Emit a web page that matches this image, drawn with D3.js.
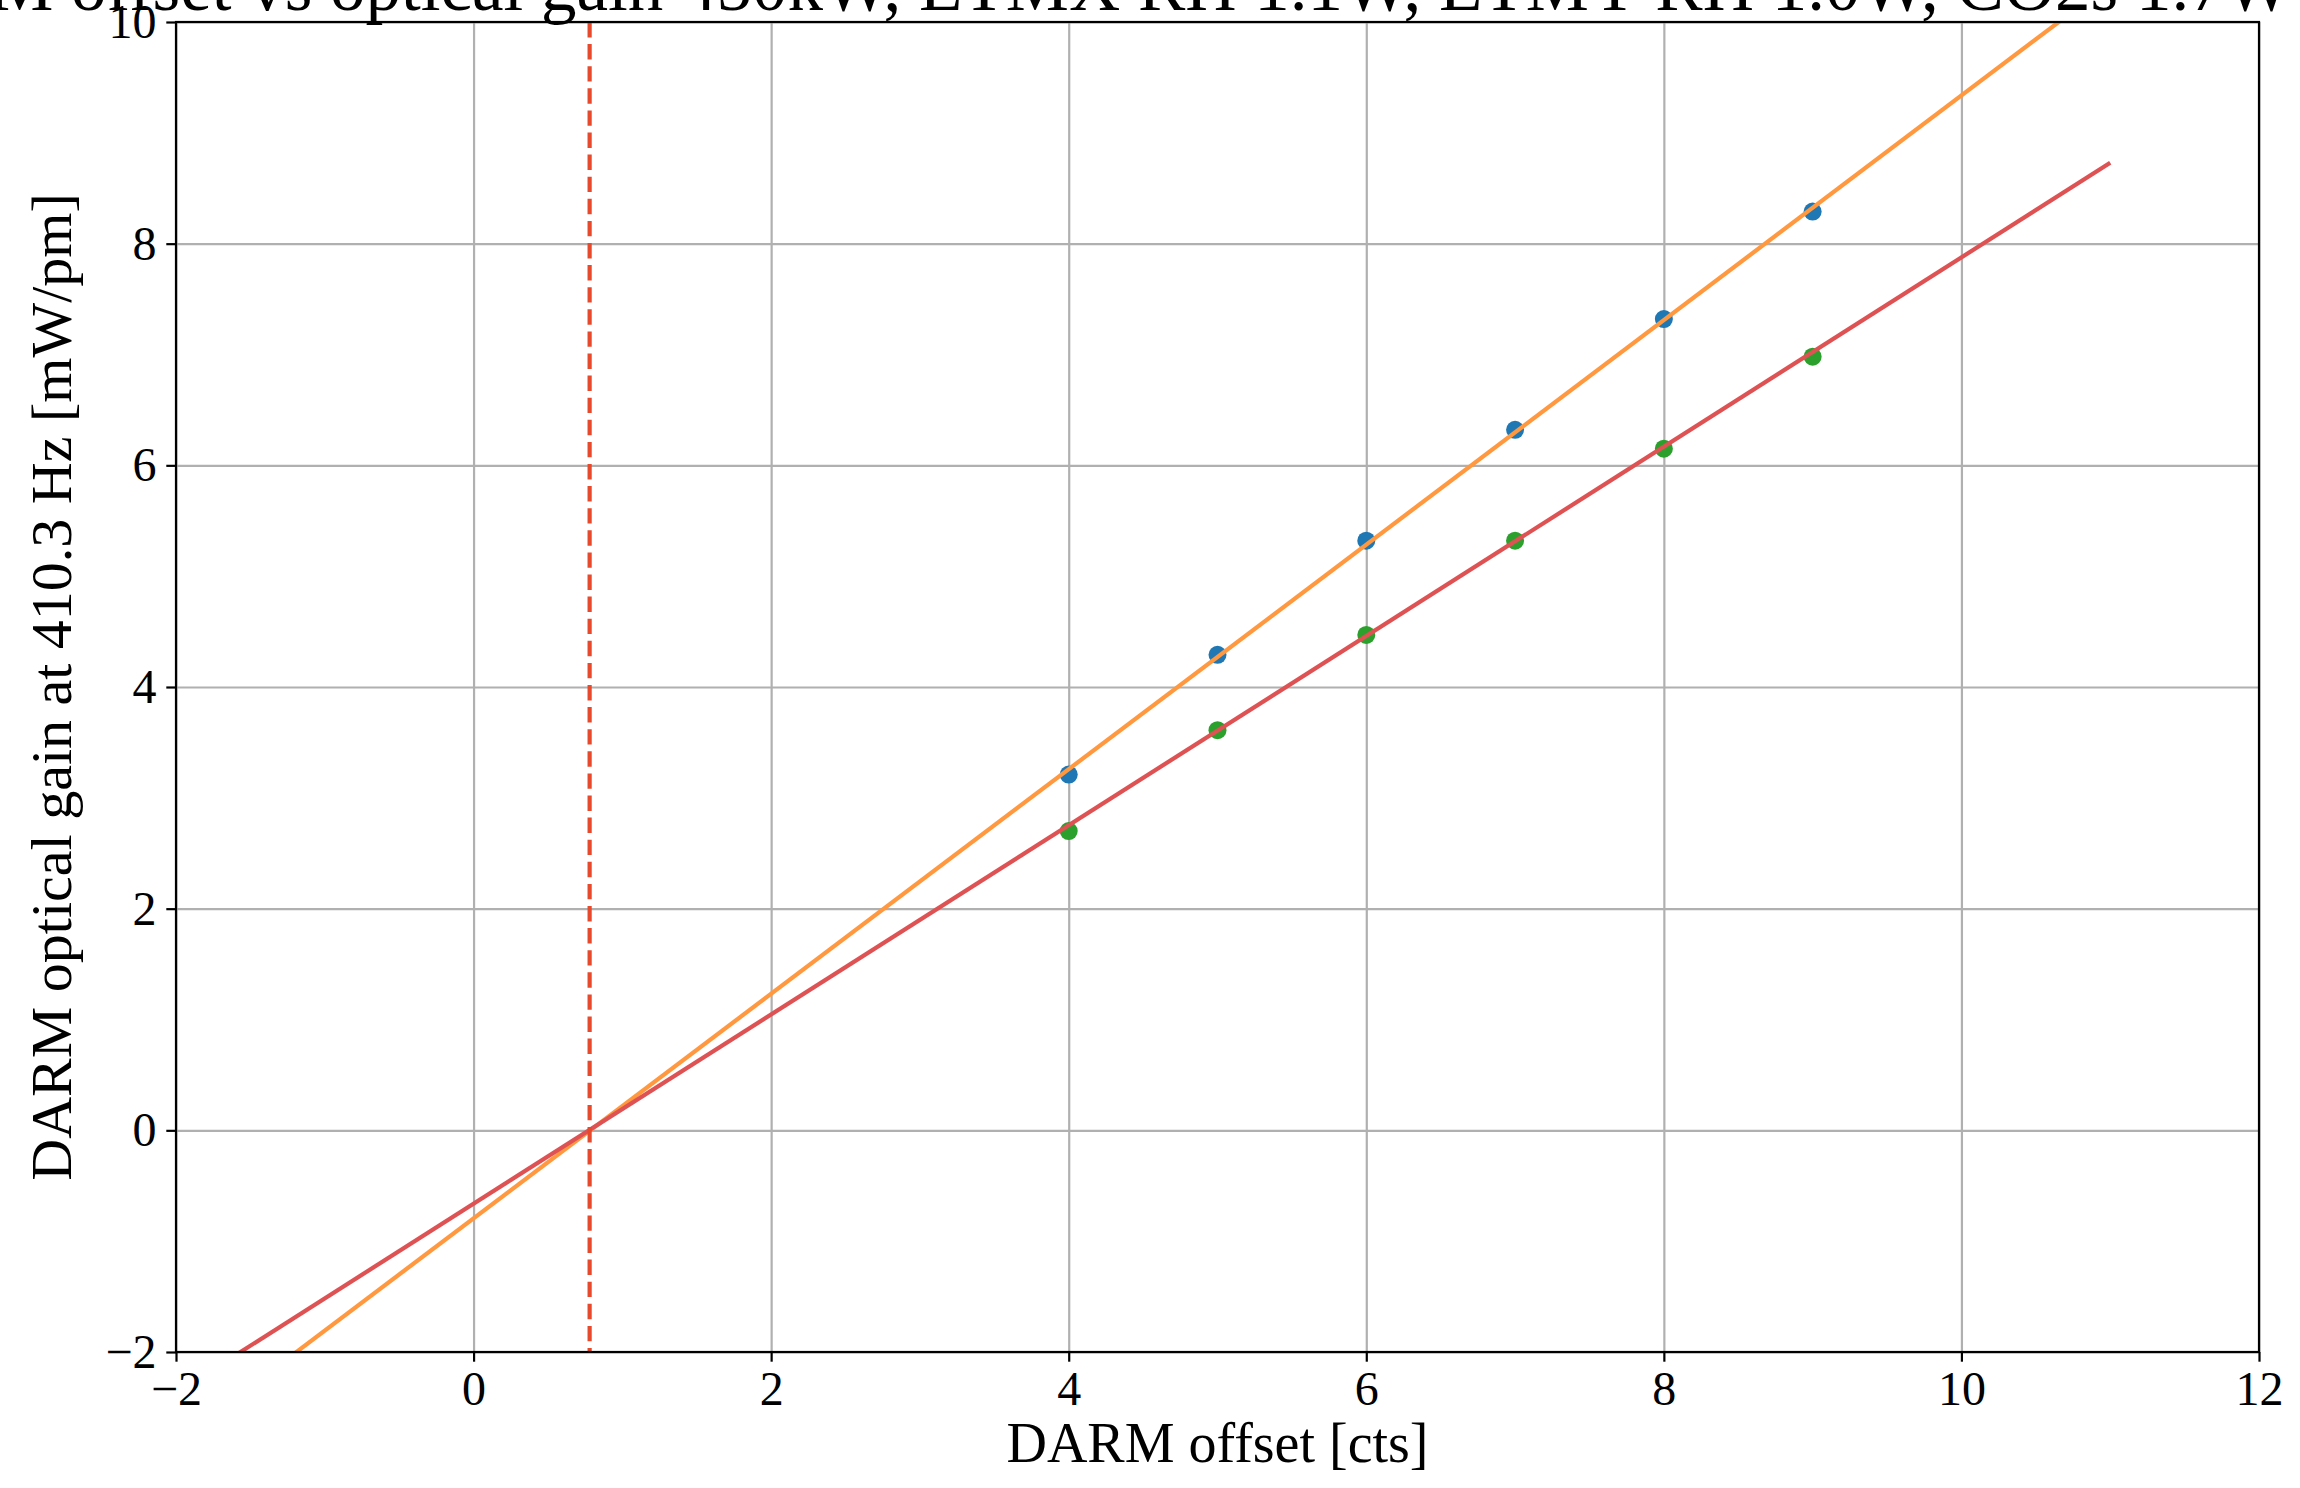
<!DOCTYPE html>
<html>
<head>
<meta charset="utf-8">
<script src="https://cdn.jsdelivr.net/npm/d3@7"></script>
<style>
  body { margin: 0; background: #fff; }
  text { font-family: "Liberation Serif", "DejaVu Serif", serif; }
</style>
</head>
<body>
<svg id="chart"></svg>
<script>
// values
var offsets = [4, 5, 6, 7, 8, 9];
var gainA = [3.21, 4.29, 5.32, 6.32, 7.32, 8.29];
var gainB = [2.70, 3.61, 4.47, 5.32, 6.15, 6.98];
var fitX = [-2, 11];
var fitA = [-2.82, 10.35];
var fitB = [-2.37, 8.73];
var zeroOffset = 0.78;
var xTicks = [-2, 0, 2, 4, 6, 8, 10, 12];
var yTicks = [-2, 0, 2, 4, 6, 8, 10];

var W = 2300, H = 1488;
var padL = 176, padR = 2259, padT = 22, padB = 1352;
var width = padR - padL, height = padB - padT;

var svg = d3.select("#chart")
    .attr("width", W)
    .attr("height", H);

var g = svg.append("g")
    .attr("transform", `translate(${padL},${padT})`);

var x = d3.scaleLinear().domain([-2, 12]).range([0, width]);
var y = d3.scaleLinear().domain([-2, 10]).range([height, 0]);

g.append("clipPath").attr("id", "clip")
    .append("rect").attr("width", width).attr("height", height);

// grid
g.append("g")
    .attr("transform", `translate(0,${height})`)
    .call(d3.axisBottom(x).tickValues(xTicks).tickSize(-height).tickFormat(""))
    .call(s => s.select(".domain").remove())
    .selectAll("line").attr("stroke", "#b0b0b0").attr("stroke-width", 2.2);
g.append("g")
    .call(d3.axisLeft(y).tickValues(yTicks).tickSize(-width).tickFormat(""))
    .call(s => s.select(".domain").remove())
    .selectAll("line").attr("stroke", "#b0b0b0").attr("stroke-width", 2.2);

// scatter points
var plot = g.append("g").attr("clip-path", "url(#clip)");
plot.selectAll(".ptA")
    .data(offsets)
    .enter()
    .append("circle")
    .attr("cx", d => x(d))
    .attr("cy", (d, i) => y(gainA[i]))
    .attr("r", 9)
    .style("fill", "#1f77b4");
plot.selectAll(".ptB")
    .data(offsets)
    .enter()
    .append("circle")
    .attr("cx", d => x(d))
    .attr("cy", (d, i) => y(gainB[i]))
    .attr("r", 9)
    .style("fill", "#2ca02c");

// fit lines
var line = d3.line().x(d => x(d[0])).y(d => y(d[1]));
plot.append("path")
    .datum(d3.zip(fitX, fitA))
    .attr("fill", "none")
    .attr("stroke", "#ff983e")
    .attr("stroke-width", 4.2)
    .attr("d", line);
plot.append("path")
    .datum(d3.zip(fitX, fitB))
    .attr("fill", "none")
    .attr("stroke", "#de5253")
    .attr("stroke-width", 4.2)
    .attr("d", line);

// zero crossing marker
plot.append("line")
    .attr("x1", x(zeroOffset)).attr("x2", x(zeroOffset))
    .attr("y1", 0).attr("y2", height)
    .attr("stroke", "#e6492c")
    .attr("stroke-width", 4.2)
    .attr("stroke-dasharray", "15.4,6.7");

// frame
g.append("rect")
    .attr("width", width).attr("height", height)
    .attr("fill", "none").attr("stroke", "#000").attr("stroke-width", 2.2);

// axes
var xAxis = g.append("g")
    .attr("transform", `translate(0,${height})`)
    .call(d3.axisBottom(x).tickValues(xTicks).tickSize(9.7).tickPadding(9.7));
var yAxis = g.append("g")
    .call(d3.axisLeft(y).tickValues(yTicks).tickSize(9.7).tickPadding(9.7));
[xAxis, yAxis].forEach(a => {
    a.select(".domain").remove();
    a.selectAll("line").attr("stroke", "#000").attr("stroke-width", 2.2);
    a.selectAll("text").attr("font-size", 48).attr("fill", "#000")
        .style("font-family", '"Liberation Serif", serif');
});

// labels
svg.append("text")
    .attr("x", (padL + padR) / 2)
    .attr("y", 1462)
    .attr("text-anchor", "middle")
    .attr("font-size", 56)
    .text("DARM offset [cts]");

svg.append("text")
    .attr("transform", `translate(71,${(padT + padB) / 2}) rotate(-90)`)
    .attr("text-anchor", "middle")
    .attr("font-size", 58)
    .text("DARM optical gain at 410.3 Hz [mW/pm]");

svg.append("text")
    .attr("x", 1066)
    .attr("y", 10)
    .attr("text-anchor", "middle")
    .attr("font-size", 71)
    .text("DARM offset vs optical gain 450kW, ETMX RH 1.1W, ETMY RH 1.0W, CO2s 1.7W");
</script>
</body>
</html>
